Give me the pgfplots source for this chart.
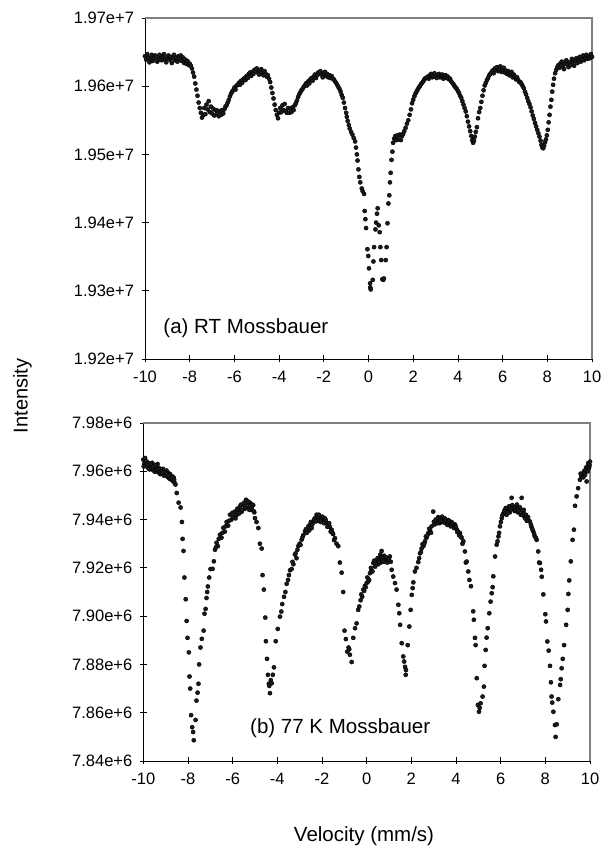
\documentclass[border=0pt]{standalone}
\usepackage{fontspec}
\setmainfont{Liberation Sans}
\usepackage{pgfplots}
\pgfplotsset{compat=1.18}

\definecolor{dotc}{RGB}{26,26,26}
\definecolor{frame}{RGB}{128,128,128}

\pgfplotsset{
  moss/.style={
    scale only axis,
    axis x line*=bottom, axis y line*=left,
    axis line style={black, line width=0.8bp, -},
    xmin=-10, xmax=10,
    xtick={-10,-8,-6,-4,-2,0,2,4,6,8,10},
    xticklabels={-10,-8,-6,-4,-2,0,2,4,6,8,10},
    tick align=center, major tick length=7bp,
    tick style={black, line width=0.8bp},
    ticklabel style={font=\fontsize{16.5bp}{19bp}\selectfont},
    yticklabel style={xshift=-4bp},
    xticklabel style={yshift=-5bp},
    clip=false,
  },
  dots/.style={only marks, mark=*, mark size=2.1bp,
    mark options={draw=none, fill=dotc}},
}

\begin{document}
\begin{tikzpicture}
\path[use as bounding box] (0bp,0bp) rectangle (603bp,848bp);

% (a) room temperature spectrum, intensity in units of 1e7
\begin{axis}[moss, at={(145bp,489bp)}, anchor=south west,
  width=447bp, height=341bp,
  ymin=1.92, ymax=1.97,
  ytick={1.92,1.93,1.94,1.95,1.96,1.97},
  yticklabels={1.92e+7,1.93e+7,1.94e+7,1.95e+7,1.96e+7,1.97e+7}]
\draw[frame, line width=1.5bp] (rel axis cs:0,1) -- (rel axis cs:1,1) -- (rel axis cs:1,0);
\addplot[dots] coordinates {
(-10.00,1.9644) (-9.95,1.9639) (-9.90,1.9647) (-9.85,1.9642) (-9.80,1.9635) (-9.75,1.9640) (-9.70,1.9646) (-9.65,1.9637)
(-9.60,1.9641) (-9.55,1.9645) (-9.50,1.9643) (-9.45,1.9636) (-9.40,1.9639) (-9.35,1.9646) (-9.30,1.9641) (-9.25,1.9638)
(-9.20,1.9644) (-9.15,1.9647) (-9.10,1.9640) (-9.05,1.9635) (-9.00,1.9642) (-8.95,1.9645) (-8.90,1.9639) (-8.85,1.9643)
(-8.80,1.9634) (-8.75,1.9641) (-8.70,1.9646) (-8.65,1.9638) (-8.60,1.9642) (-8.55,1.9636) (-8.50,1.9644) (-8.45,1.9640)
(-8.40,1.9645) (-8.35,1.9637) (-8.30,1.9642) (-8.25,1.9634) (-8.20,1.9639) (-8.15,1.9633) (-8.10,1.9637) (-8.05,1.9631)
(-8.00,1.9633) (-7.95,1.9630) (-7.90,1.9626) (-7.85,1.9620) (-7.80,1.9614) (-7.75,1.9604) (-7.70,1.9595) (-7.65,1.9586)
(-7.60,1.9576) (-7.55,1.9568) (-7.50,1.9561) (-7.45,1.9554) (-7.40,1.9558) (-7.35,1.9568) (-7.30,1.9559) (-7.25,1.9573)
(-7.20,1.9566) (-7.15,1.9578) (-7.10,1.9562) (-7.05,1.9570) (-7.00,1.9560) (-6.95,1.9567) (-6.90,1.9557) (-6.85,1.9565)
(-6.80,1.9559) (-6.75,1.9564) (-6.70,1.9556) (-6.65,1.9563) (-6.60,1.9558) (-6.55,1.9565) (-6.50,1.9560) (-6.45,1.9566)
(-6.40,1.9570) (-6.35,1.9572) (-6.30,1.9576) (-6.25,1.9580) (-6.20,1.9585) (-6.15,1.9589) (-6.10,1.9592) (-6.05,1.9594)
(-6.00,1.9598) (-5.95,1.9595) (-5.90,1.9601) (-5.85,1.9602) (-5.80,1.9605) (-5.75,1.9602) (-5.70,1.9608) (-5.65,1.9605)
(-5.60,1.9610) (-5.55,1.9612) (-5.50,1.9609) (-5.45,1.9615) (-5.40,1.9612) (-5.35,1.9618) (-5.30,1.9620) (-5.25,1.9615)
(-5.20,1.9621) (-5.15,1.9618) (-5.10,1.9624) (-5.05,1.9622) (-5.00,1.9626) (-4.95,1.9620) (-4.90,1.9617) (-4.85,1.9623)
(-4.80,1.9625) (-4.75,1.9619) (-4.70,1.9616) (-4.65,1.9622) (-4.60,1.9618) (-4.55,1.9614) (-4.50,1.9616) (-4.45,1.9611)
(-4.40,1.9606) (-4.35,1.9598) (-4.30,1.9590) (-4.25,1.9582) (-4.20,1.9573) (-4.15,1.9565) (-4.10,1.9558) (-4.05,1.9553)
(-4.00,1.9561) (-3.95,1.9568) (-3.90,1.9562) (-3.85,1.9572) (-3.80,1.9565) (-3.75,1.9574) (-3.70,1.9563) (-3.65,1.9561)
(-3.60,1.9568) (-3.55,1.9561) (-3.50,1.9567) (-3.45,1.9562) (-3.40,1.9569) (-3.35,1.9565) (-3.30,1.9572) (-3.25,1.9575)
(-3.20,1.9579) (-3.15,1.9584) (-3.10,1.9588) (-3.05,1.9591) (-3.00,1.9594) (-2.95,1.9596) (-2.90,1.9599) (-2.85,1.9601)
(-2.80,1.9604) (-2.75,1.9601) (-2.70,1.9607) (-2.65,1.9604) (-2.60,1.9610) (-2.55,1.9612) (-2.50,1.9608) (-2.45,1.9614)
(-2.40,1.9617) (-2.35,1.9612) (-2.30,1.9616) (-2.25,1.9620) (-2.20,1.9618) (-2.15,1.9622) (-2.10,1.9617) (-2.05,1.9613)
(-2.00,1.9619) (-1.95,1.9621) (-1.90,1.9615) (-1.85,1.9618) (-1.80,1.9613) (-1.75,1.9616) (-1.70,1.9612) (-1.65,1.9615)
(-1.60,1.9611) (-1.55,1.9610) (-1.50,1.9607) (-1.45,1.9605) (-1.40,1.9602) (-1.35,1.9599) (-1.30,1.9596) (-1.25,1.9592)
(-1.20,1.9587) (-1.15,1.9583) (-1.10,1.9576) (-1.05,1.9568) (-1.00,1.9561) (-0.97,1.9555) (-0.93,1.9549) (-0.88,1.9543)
(-0.84,1.9538) (-0.78,1.9533) (-0.72,1.9529) (-0.66,1.9524) (-0.60,1.9519) (-0.56,1.9510) (-0.52,1.9500) (-0.49,1.9491)
(-0.45,1.9478) (-0.41,1.9467) (-0.37,1.9459) (-0.30,1.9450) (-0.26,1.9446) (-0.20,1.9442) (-0.17,1.9417) (-0.14,1.9405)
(-0.11,1.9392) (-0.05,1.9361) (-0.01,1.9351) (0.02,1.9333) (0.07,1.9311) (0.08,1.9305) (0.10,1.9302) (0.19,1.9316)
(0.22,1.9343) (0.25,1.9364) (0.31,1.9390) (0.34,1.9400) (0.38,1.9413) (0.41,1.9421) (0.46,1.9396) (0.50,1.9386)
(0.53,1.9364) (0.57,1.9345) (0.62,1.9317) (0.66,1.9316) (0.69,1.9318) (0.77,1.9345) (0.81,1.9364) (0.85,1.9399)
(0.89,1.9428) (0.93,1.9440) (0.96,1.9459) (0.99,1.9473) (1.03,1.9492) (1.07,1.9504) (1.10,1.9517) (1.15,1.9523)
(1.20,1.9527) (1.25,1.9521) (1.30,1.9528) (1.35,1.9522) (1.40,1.9529) (1.45,1.9521) (1.50,1.9527) (1.55,1.9530)
(1.60,1.9534) (1.66,1.9539) (1.72,1.9545) (1.78,1.9550) (1.84,1.9558) (1.90,1.9566) (1.95,1.9575) (2.00,1.9580)
(2.05,1.9585) (2.10,1.9589) (2.15,1.9592) (2.20,1.9595) (2.25,1.9598) (2.30,1.9600) (2.35,1.9603) (2.40,1.9605)
(2.45,1.9607) (2.50,1.9610) (2.55,1.9612) (2.60,1.9612) (2.65,1.9614) (2.70,1.9611) (2.75,1.9616) (2.80,1.9618)
(2.85,1.9613) (2.90,1.9615) (2.95,1.9619) (3.00,1.9614) (3.05,1.9612) (3.10,1.9616) (3.15,1.9618) (3.20,1.9613)
(3.25,1.9615) (3.30,1.9617) (3.35,1.9611) (3.40,1.9614) (3.45,1.9616) (3.50,1.9612) (3.55,1.9614) (3.60,1.9610)
(3.65,1.9611) (3.70,1.9607) (3.75,1.9605) (3.80,1.9603) (3.85,1.9600) (3.90,1.9598) (3.95,1.9596) (4.00,1.9593)
(4.05,1.9590) (4.10,1.9586) (4.15,1.9583) (4.20,1.9578) (4.25,1.9573) (4.30,1.9568) (4.35,1.9563) (4.40,1.9556)
(4.45,1.9548) (4.50,1.9541) (4.55,1.9534) (4.60,1.9527) (4.64,1.9521) (4.68,1.9517) (4.72,1.9520) (4.76,1.9526)
(4.80,1.9533) (4.85,1.9540) (4.90,1.9553) (4.95,1.9562) (5.00,1.9568) (5.05,1.9577) (5.10,1.9586) (5.15,1.9594)
(5.20,1.9601) (5.25,1.9605) (5.30,1.9609) (5.35,1.9612) (5.40,1.9616) (5.45,1.9618) (5.50,1.9620) (5.55,1.9623)
(5.60,1.9619) (5.65,1.9626) (5.70,1.9624) (5.75,1.9628) (5.80,1.9622) (5.85,1.9625) (5.90,1.9629) (5.95,1.9621)
(6.00,1.9624) (6.05,1.9627) (6.10,1.9620) (6.15,1.9623) (6.20,1.9618) (6.25,1.9622) (6.30,1.9616) (6.35,1.9619)
(6.40,1.9621) (6.45,1.9613) (6.50,1.9617) (6.55,1.9614) (6.60,1.9610) (6.65,1.9613) (6.70,1.9609) (6.75,1.9606)
(6.80,1.9606) (6.85,1.9603) (6.90,1.9600) (6.95,1.9597) (7.00,1.9592) (7.05,1.9588) (7.10,1.9583) (7.15,1.9578)
(7.20,1.9574) (7.25,1.9569) (7.30,1.9563) (7.35,1.9557) (7.40,1.9552) (7.45,1.9546) (7.50,1.9541) (7.55,1.9536)
(7.60,1.9531) (7.65,1.9526) (7.70,1.9520) (7.74,1.9514) (7.78,1.9510) (7.82,1.9509) (7.86,1.9513) (7.90,1.9518)
(7.94,1.9522) (7.98,1.9528) (8.02,1.9536) (8.06,1.9547) (8.10,1.9558) (8.14,1.9570) (8.18,1.9580) (8.22,1.9592)
(8.26,1.9602) (8.30,1.9611) (8.35,1.9619) (8.40,1.9624) (8.45,1.9628) (8.50,1.9631) (8.55,1.9627) (8.60,1.9634)
(8.65,1.9636) (8.70,1.9629) (8.75,1.9625) (8.80,1.9633) (8.85,1.9638) (8.90,1.9632) (8.95,1.9628) (9.00,1.9635)
(9.05,1.9631) (9.10,1.9640) (9.15,1.9636) (9.20,1.9630) (9.25,1.9637) (9.30,1.9641) (9.35,1.9634) (9.40,1.9638)
(9.45,1.9643) (9.50,1.9636) (9.55,1.9640) (9.60,1.9645) (9.65,1.9638) (9.70,1.9642) (9.75,1.9646) (9.80,1.9640)
(9.85,1.9644) (9.90,1.9641) (9.95,1.9647) (10.00,1.9643)
};
\node[anchor=west, font=\fontsize{20.5bp}{24bp}\selectfont] at (axis cs:-9.33,1.9245) {(a) RT Mossbauer};
\end{axis}

% (b) 77 K spectrum, intensity in units of 1e6
\begin{axis}[moss, at={(143.3bp,87bp)}, anchor=south west,
  width=446.7bp, height=338bp,
  ymin=7.84, ymax=7.98,
  ytick={7.84,7.86,7.88,7.90,7.92,7.94,7.96,7.98},
  yticklabels={7.84e+6,7.86e+6,7.88e+6,7.90e+6,7.92e+6,7.94e+6,7.96e+6,7.98e+6}]
\draw[frame, line width=1.5bp] (rel axis cs:0,1) -- (rel axis cs:1,1) -- (rel axis cs:1,0);
\addplot[dots] coordinates {
(-10.00,7.9648) (-9.96,7.9630) (-9.92,7.9655) (-9.88,7.9622) (-9.84,7.9640) (-9.80,7.9615) (-9.76,7.9633) (-9.72,7.9608)
(-9.68,7.9626) (-9.64,7.9612) (-9.60,7.9635) (-9.56,7.9604) (-9.52,7.9621) (-9.48,7.9598) (-9.44,7.9617) (-9.40,7.9606)
(-9.36,7.9630) (-9.32,7.9595) (-9.28,7.9612) (-9.24,7.9588) (-9.20,7.9605) (-9.16,7.9593) (-9.12,7.9610) (-9.08,7.9582)
(-9.04,7.9600) (-9.00,7.9585) (-8.96,7.9603) (-8.92,7.9577) (-8.88,7.9594) (-8.84,7.9570) (-8.80,7.9588) (-8.76,7.9566)
(-8.72,7.9580) (-8.68,7.9560) (-8.64,7.9574) (-8.60,7.9552) (-8.56,7.9545) (-8.50,7.9510) (-8.42,7.9470) (-8.33,7.9450)
(-8.27,7.9390) (-8.24,7.9320) (-8.20,7.9270) (-8.16,7.9160) (-8.10,7.9070) (-8.06,7.8980) (-8.02,7.8910) (-7.96,7.8850)
(-7.93,7.8750) (-7.90,7.8700) (-7.86,7.8590) (-7.81,7.8540) (-7.77,7.8520) (-7.74,7.8486) (-7.66,7.8570) (-7.62,7.8650)
(-7.57,7.8683) (-7.53,7.8720) (-7.50,7.8800) (-7.44,7.8870) (-7.38,7.8906) (-7.30,7.8940) (-7.26,7.9010) (-7.21,7.9030)
(-7.17,7.9075) (-7.14,7.9100) (-7.11,7.9123) (-7.05,7.9160) (-6.99,7.9195) (-6.90,7.9196) (-6.84,7.9227) (-6.79,7.9275)
(-6.72,7.9304) (-6.66,7.9290) (-6.57,7.9337) (-6.50,7.9325) (-6.42,7.9366) (-6.35,7.9350) (-6.27,7.9390) (-6.20,7.9375)
(-6.12,7.9420) (-6.05,7.9400) (-5.98,7.9410) (-5.90,7.9433) (-5.83,7.9418) (-5.75,7.9440) (-5.67,7.9454) (-5.60,7.9432)
(-5.52,7.9460) (-5.45,7.9445) (-5.40,7.9482) (-5.35,7.9468) (-5.28,7.9450) (-5.23,7.9470) (-5.17,7.9440) (-5.12,7.9462)
(-5.08,7.9460) (-5.03,7.9430) (-5.00,7.9406) (-4.93,7.9390) (-4.85,7.9365) (-4.78,7.9300) (-4.70,7.9280) (-4.66,7.9170)
(-4.60,7.9110) (-4.54,7.8994) (-4.51,7.8896) (-4.46,7.8823) (-4.42,7.8757) (-4.38,7.8720) (-4.36,7.8711) (-4.33,7.8681)
(-4.29,7.8735) (-4.25,7.8722) (-4.20,7.8757) (-4.15,7.8788) (-4.07,7.8896) (-3.98,7.8947) (-3.88,7.8998) (-3.82,7.9019)
(-3.78,7.9050) (-3.70,7.9080) (-3.64,7.9100) (-3.58,7.9134) (-3.52,7.9150) (-3.48,7.9170) (-3.43,7.9190) (-3.36,7.9195)
(-3.28,7.9215) (-3.21,7.9255) (-3.14,7.9240) (-3.06,7.9290) (-3.00,7.9300) (-2.91,7.9317) (-2.84,7.9335) (-2.76,7.9351)
(-2.68,7.9345) (-2.61,7.9372) (-2.53,7.9380) (-2.46,7.9365) (-2.39,7.9392) (-2.32,7.9405) (-2.24,7.9420) (-2.18,7.9395)
(-2.10,7.9410) (-2.02,7.9400) (-1.95,7.9395) (-1.87,7.9405) (-1.79,7.9386) (-1.72,7.9378) (-1.65,7.9370) (-1.57,7.9358)
(-1.50,7.9340) (-1.42,7.9323) (-1.35,7.9300) (-1.27,7.9290) (-1.20,7.9222) (-1.12,7.9180) (-1.05,7.9100) (-0.99,7.8940)
(-0.93,7.8905) (-0.87,7.8853) (-0.81,7.8870) (-0.78,7.8863) (-0.75,7.8840) (-0.67,7.8810) (-0.60,7.8910) (-0.52,7.8950)
(-0.45,7.8970) (-0.38,7.9026) (-0.27,7.9066) (-0.20,7.9080) (-0.15,7.9110) (-0.08,7.9125) (-0.04,7.9120) (0.00,7.9137)
(0.07,7.9143) (0.15,7.9178) (0.22,7.9190) (0.30,7.9220) (0.38,7.9205) (0.45,7.9226) (0.52,7.9215) (0.58,7.9240)
(0.63,7.9222) (0.67,7.9270) (0.72,7.9235) (0.78,7.9250) (0.82,7.9233) (0.88,7.9228) (0.95,7.9240) (1.04,7.9247)
(1.08,7.9225) (1.12,7.9192) (1.19,7.9164) (1.27,7.9137) (1.34,7.9110) (1.42,7.9047) (1.46,7.9012) (1.50,7.8964)
(1.57,7.8888) (1.64,7.8833) (1.68,7.8812) (1.72,7.8790) (1.75,7.8757) (1.76,7.8777) (1.84,7.8880) (1.91,7.8957)
(1.97,7.9026) (2.02,7.9088) (2.06,7.9116) (2.09,7.9140) (2.16,7.9185) (2.23,7.9200) (2.31,7.9224) (2.39,7.9260)
(2.46,7.9280) (2.54,7.9290) (2.61,7.9310) (2.68,7.9325) (2.76,7.9344) (2.84,7.9355) (2.91,7.9372) (2.98,7.9433)
(3.05,7.9380) (3.13,7.9395) (3.20,7.9410) (3.27,7.9385) (3.35,7.9400) (3.42,7.9392) (3.50,7.9405) (3.57,7.9385)
(3.65,7.9398) (3.72,7.9380) (3.80,7.9390) (3.87,7.9372) (3.95,7.9380) (4.03,7.9360) (4.10,7.9350) (4.18,7.9344)
(4.25,7.9325) (4.33,7.9310) (4.40,7.9268) (4.44,7.9222) (4.48,7.9226) (4.55,7.9185) (4.60,7.9150) (4.67,7.9124)
(4.77,7.9020) (4.80,7.8985) (4.85,7.8910) (4.88,7.8880) (4.93,7.8743) (4.98,7.8632) (5.03,7.8604) (5.06,7.8620)
(5.10,7.8639) (5.19,7.8667) (5.25,7.8708) (5.28,7.8794) (5.33,7.8860) (5.37,7.8911) (5.42,7.8950) (5.49,7.9012)
(5.55,7.9060) (5.60,7.9095) (5.64,7.9120) (5.67,7.9165) (5.75,7.9247) (5.82,7.9296) (5.90,7.9330) (5.97,7.9372)
(6.05,7.9406) (6.12,7.9425) (6.19,7.9440) (6.27,7.9420) (6.34,7.9445) (6.41,7.9430) (6.49,7.9490) (6.56,7.9445)
(6.63,7.9435) (6.70,7.9455) (6.77,7.9430) (6.84,7.9440) (6.90,7.9420) (6.94,7.9490) (7.00,7.9430) (7.07,7.9410)
(7.13,7.9420) (7.20,7.9400) (7.26,7.9395) (7.31,7.9392) (7.38,7.9370) (7.46,7.9351) (7.53,7.9330) (7.61,7.9316)
(7.68,7.9268) (7.72,7.9222) (7.76,7.9220) (7.81,7.9192) (7.84,7.9163) (7.91,7.9090) (8.00,7.9008) (8.03,7.8978)
(8.09,7.8895) (8.15,7.8857) (8.21,7.8794) (8.25,7.8726) (8.28,7.8667) (8.31,7.8642) (8.36,7.8604) (8.43,7.8549)
(8.46,7.8500) (8.51,7.8552) (8.58,7.8656) (8.66,7.8715) (8.69,7.8739) (8.73,7.8784) (8.78,7.8823) (8.84,7.8880)
(8.93,7.8964) (9.00,7.9026) (9.03,7.9092) (9.07,7.9148) (9.14,7.9227) (9.22,7.9316) (9.28,7.9358) (9.33,7.9457)
(9.40,7.9496) (9.47,7.9530) (9.55,7.9565) (9.62,7.9579) (9.68,7.9590) (9.73,7.9600) (9.78,7.9585) (9.82,7.9614)
(9.85,7.9558) (9.88,7.9620) (9.92,7.9634) (9.96,7.9615) (10.00,7.9640)
(-9.98,7.9620) (-9.90,7.9640) (-9.82,7.9628) (-9.74,7.9610) (-9.66,7.9632) (-9.58,7.9618) (-9.46,7.9625) (-9.34,7.9612)
(-9.22,7.9598) (-9.10,7.9595) (-8.98,7.9592) (-8.86,7.9582) (-8.74,7.9572) (-8.62,7.9565)
(-6.75,7.9285) (-6.62,7.9320) (-6.46,7.9345) (-6.31,7.9372) (-6.16,7.9395) (-6.01,7.9428) (-5.87,7.9405) (-5.79,7.9445)
(-5.71,7.9425) (-5.63,7.9462) (-5.56,7.9440) (-5.48,7.9470) (-5.43,7.9452) (-5.31,7.9475) (-5.25,7.9440) (-5.20,7.9458)
(-5.14,7.9448) (-5.06,7.9435)
(-3.32,7.9225) (-3.18,7.9260) (-3.10,7.9275) (-2.96,7.9295) (-2.88,7.9325) (-2.72,7.9360) (-2.57,7.9355) (-2.50,7.9390)
(-2.43,7.9380) (-2.35,7.9400) (-2.28,7.9392) (-2.21,7.9412) (-2.14,7.9420) (-2.06,7.9390) (-1.98,7.9412) (-1.91,7.9385)
(-1.83,7.9398) (-1.76,7.9370) (-1.68,7.9385) (-1.61,7.9350) (-1.53,7.9345) (-1.46,7.9315)
(-0.33,7.9040) (-0.24,7.9090) (-0.11,7.9105) (0.03,7.9160) (0.11,7.9150) (0.19,7.9200) (0.26,7.9185) (0.34,7.9230)
(0.41,7.9215) (0.49,7.9240) (0.55,7.9225) (0.61,7.9255) (0.70,7.9245) (0.75,7.9225) (0.85,7.9245) (0.92,7.9222)
(0.99,7.9235)
(2.35,7.9240) (2.43,7.9265) (2.50,7.9298) (2.58,7.9300) (2.65,7.9330) (2.72,7.9335) (2.80,7.9362) (2.88,7.9345)
(3.01,7.9390) (3.09,7.9400) (3.16,7.9385) (3.24,7.9405) (3.31,7.9395) (3.38,7.9412) (3.46,7.9388) (3.53,7.9398)
(3.61,7.9378) (3.68,7.9395) (3.76,7.9372) (3.84,7.9385) (3.91,7.9365) (3.99,7.9372) (4.06,7.9348) (4.14,7.9335)
(4.21,7.9330) (4.29,7.9300)
(5.86,7.9310) (5.93,7.9345) (6.01,7.9390) (6.08,7.9418) (6.16,7.9435) (6.23,7.9448) (6.30,7.9430) (6.38,7.9455)
(6.45,7.9440) (6.52,7.9460) (6.60,7.9448) (6.67,7.9440) (6.73,7.9462) (6.80,7.9438) (6.87,7.9450) (6.97,7.9420)
(7.04,7.9440) (7.10,7.9405) (7.17,7.9395) (7.23,7.9410) (7.35,7.9380) (7.42,7.9360) (7.50,7.9340) (7.57,7.9325)
(9.58,7.9590) (9.70,7.9575) (9.80,7.9605) (9.90,7.9600) (9.98,7.9625)
};
\node[anchor=west, font=\fontsize{20.5bp}{24bp}\selectfont] at (axis cs:-5.37,7.8537) {(b) 77 K Mossbauer};
\end{axis}

\node[rotate=90, font=\fontsize{20bp}{24bp}\selectfont] at (22.5bp,452bp) {Intensity};
\node[anchor=base, font=\fontsize{20.5bp}{24bp}\selectfont] at (364bp,6.6bp) {Velocity (mm/s)};
\end{tikzpicture}
\end{document}
